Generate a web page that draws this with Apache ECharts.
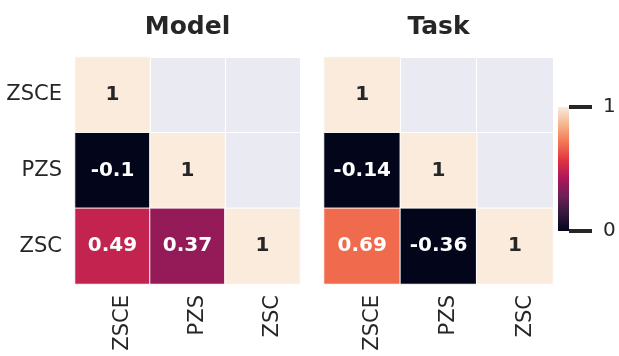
<!DOCTYPE html>
<html>
<head>
<meta charset="utf-8">
<script src="https://cdn.jsdelivr.net/npm/echarts@6/dist/echarts.min.js"></script>
<style>html,body{margin:0;padding:0;background:#fff;overflow:hidden}#c{width:619px;height:356px}</style>
</head>
<body>
<div id="c"></div>
<script>
// Data
const categories = ['ZSCE', 'PZS', 'ZSC'];
const panelTitles = ['Model', 'Task'];
// lower-triangle correlation rows (row i has i+1 values)
const modelCorr = [[1], [-0.1, 1], [0.49, 0.37, 1]];
const taskCorr = [[1], [-0.14, 1], [0.69, -0.36, 1]];
const colorbarTicks = [0, 1];
const rocket = ['#03051A', '#35193E', '#701F57', '#AD1759', '#E13342', '#F37651', '#F6B48F', '#FAEBDD'];

const FONT = 'DejaVu Sans';
const DARK = '#262626';

function toCells(rows) {
  const out = [];
  rows.forEach((row, i) => row.forEach((v, j) => out.push([j, i, v])));
  return out;
}

const grids = [
  {left: 75, top: 57, width: 225, height: 227},
  {left: 324, top: 57, width: 229, height: 227}
];

function xAx(gi) {
  return {
    type: 'category', data: categories, gridIndex: gi,
    axisLine: {show: false}, axisTick: {show: false},
    splitLine: {show: true, lineStyle: {color: '#ffffff', width: 1}},
    axisLabel: {rotate: 90, verticalAlign: 'top', margin: 11, fontSize: 21, color: DARK, fontFamily: FONT}
  };
}
function yAx(gi, showLabel) {
  return {
    type: 'category', data: categories, gridIndex: gi, inverse: true,
    axisLine: {show: false}, axisTick: {show: false},
    splitLine: {show: true, lineStyle: {color: '#ffffff', width: 1}},
    axisLabel: {show: showLabel, margin: 13, fontSize: 21, color: DARK, fontFamily: FONT}
  };
}

const labelCfg = {
  show: true,
  formatter: p => {
    const v = p.value[2];
    return (v > 0.85 ? '{d|' : '{w|') + String(v) + '}';
  },
  rich: {
    d: {color: DARK, fontWeight: 'bold', fontSize: 20, fontFamily: FONT},
    w: {color: '#ffffff', fontWeight: 'bold', fontSize: 20, fontFamily: FONT}
  }
};

const cbStops = rocket.map((c, i) => ({offset: i / (rocket.length - 1), color: c}));

const option = {
  animation: false,
  title: panelTitles.map((t, i) => ({
    text: t,
    left: grids[i].left + grids[i].width / 2,
    top: 14.5,
    padding: 0,
    textAlign: 'center',
    textStyle: {fontSize: 25, fontWeight: 'bold', color: DARK, fontFamily: FONT}
  })),
  grid: [
    Object.assign({show: true, backgroundColor: '#EAEAF2', borderWidth: 0}, grids[0]),
    Object.assign({show: true, backgroundColor: '#EAEAF2', borderWidth: 0}, grids[1]),
    {left: 558, top: 107, width: 11, height: 124, show: false}
  ],
  xAxis: [xAx(0), xAx(1), {type: 'category', data: [''], gridIndex: 2, show: false}],
  yAxis: [yAx(0, true), yAx(1, false), {
    type: 'value', gridIndex: 2, position: 'right',
    min: colorbarTicks[0], max: colorbarTicks[colorbarTicks.length - 1], interval: 1,
    axisLine: {show: false, onZero: false},
    splitLine: {show: false},
    axisTick: {show: true, length: 23, lineStyle: {color: DARK, width: 4}},
    axisLabel: {margin: 34, fontSize: 20, color: DARK, fontFamily: FONT}
  }],
  visualMap: {
    type: 'continuous', show: false,
    min: 0, max: 1,
    seriesIndex: [0, 1],
    inRange: {color: rocket},
    outOfRange: {color: rocket[0]}
  },
  series: [
    {type: 'heatmap', xAxisIndex: 0, yAxisIndex: 0, data: toCells(modelCorr),
     itemStyle: {borderColor: '#ffffff', borderWidth: 1}, label: labelCfg, emphasis: {disabled: true}},
    {type: 'heatmap', xAxisIndex: 1, yAxisIndex: 1, data: toCells(taskCorr),
     itemStyle: {borderColor: '#ffffff', borderWidth: 1}, label: labelCfg, emphasis: {disabled: true}},
    {type: 'bar', xAxisIndex: 2, yAxisIndex: 2, data: [colorbarTicks[colorbarTicks.length - 1]],
     barWidth: '100%', silent: true,
     itemStyle: {color: new echarts.graphic.LinearGradient(0, 1, 0, 0, cbStops)}}
  ]
};

const chart = echarts.init(document.getElementById('c'), null, {renderer: 'canvas'});
chart.setOption(option);
</script>
</body>
</html>
